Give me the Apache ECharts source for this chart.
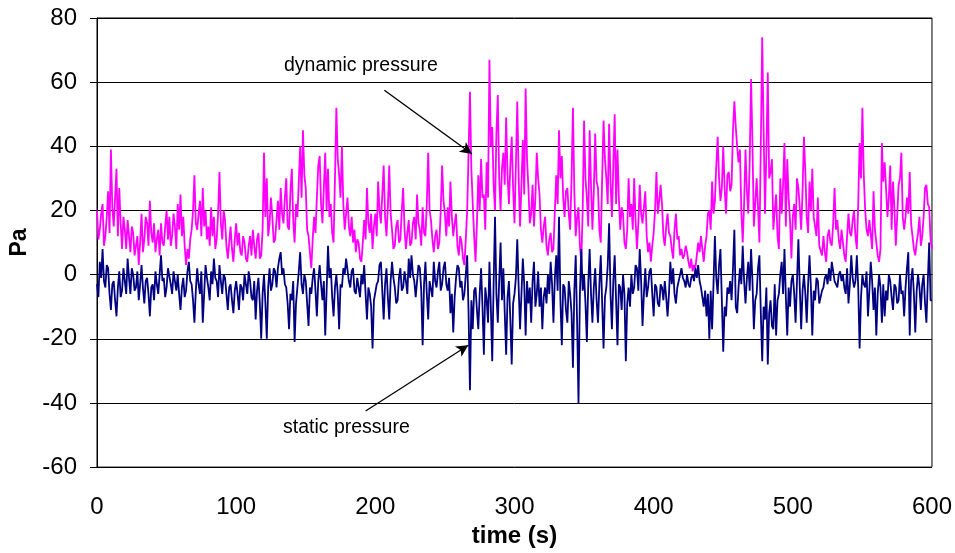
<!DOCTYPE html>
<html>
<head>
<meta charset="utf-8">
<script src="https://cdn.jsdelivr.net/npm/echarts@6/dist/echarts.min.js"></script>
<style>
html,body{margin:0;padding:0;background:#fff;}
#chart{width:955px;height:553px;}
</style>
</head>
<body>
<div id="chart"></div>
<script>
// sampling step of the hand-read series (seconds)
const sampleStep = 1;

// dynamic pressure (Pa), read every 1 s from 0 to 600 s (20 values per row)
const dynamicPressure = [
  20,11,14,19,22,9,12,18,26,13,39,21,15,24,33,12,27,16,8,18,
  14,8,17,12,7,15,13,6,9,12,3,10,19,7,11,18,16,9,23,13,
  10,16,7,11,14,6,16,10,9,15,20,11,18,9,12,19,15,8,22,14,
  25,12,18,9,3,8,5,11,14,20,31,16,14,19,23,12,27,15,20,11,
  15,9,21,12,18,8,11,19,32,16,11,20,17,9,5,10,15,8,4,11,
  16,9,13,7,6,12,10,5,4,9,12,6,14,9,5,11,13,5,6,14,
  38,18,30,12,16,24,18,10,11,17,23,14,27,19,16,24,30,15,14,26,
  33,17,10,22,18,29,40,24,45,31,27,14,12,7,2,11,18,13,24,34,
  37,22,16,27,38,20,33,18,22,13,10,30,52,36,31,24,40,22,14,19,
  24,15,12,18,10,14,7,11,10,5,4,10,17,11,27,16,13,19,8,15,
  19,12,29,20,16,25,34,18,12,21,34,19,14,8,9,15,17,10,11,20,
  27,14,8,13,17,9,10,16,18,11,25,16,14,9,21,13,12,22,38,20,
  17,11,7,12,14,8,10,20,34,23,19,12,21,15,29,18,12,16,19,9,
  6,12,10,5,3,11,20,38,57,33,22,12,4,16,31,20,36,24,25,14,
  35,24,67,40,46,28,20,44,56,30,20,33,38,28,49,31,22,34,43,27,
  16,34,54,30,15,28,42,25,58,36,27,16,19,28,15,24,38,30,25,14,
  10,15,18,9,6,11,13,7,8,20,31,22,45,30,37,24,18,26,27,19,
  14,30,52,26,12,18,21,9,4,20,48,30,24,15,45,28,14,26,44,29,
  27,14,10,30,48,36,30,22,47,29,18,34,50,22,39,24,14,21,19,10,
  8,14,30,18,22,14,30,17,8,16,28,19,16,21,26,12,7,10,4,9,
  13,20,32,19,23,28,22,12,9,15,19,13,12,8,5,14,19,11,12,6,
  8,5,6,9,7,4,2,5,1,3,2,6,10,7,12,8,4,9,12,19,
  20,14,29,19,23,34,43,30,23,27,40,27,19,31,32,26,28,45,54,46,
  40,35,39,20,10,22,39,26,19,35,61,41,15,22,30,21,10,40,74,46,
  19,38,63,30,32,36,14,20,25,12,8,30,19,28,41,15,36,24,17,5,
  18,22,14,30,27,21,14,26,43,32,18,13,29,20,33,18,18,12,24,9,
  9,6,12,7,4,12,14,10,9,16,27,14,17,11,8,14,14,6,4,12,
  19,13,12,17,20,12,8,22,41,30,52,31,20,14,12,17,17,8,26,14,
  10,6,4,8,41,29,35,27,18,24,34,14,29,21,9,18,28,30,38,18,
  14,18,24,19,32,16,12,8,6,10,13,18,9,12,18,27,28,22,21,11,
  8
];

// static pressure (Pa), read every 1 s from 0 to 600 s (20 values per row)
const staticPressure = [
  -3,-7,4,-1,8,-2,-4,3,2,-6,-11,-3,-2,-8,-13,-4,1,-7,-5,2,
  -2,-6,5,-1,-6,2,0,-5,-4,1,-8,-3,3,-4,-9,-2,-1,-6,-13,-4,
  -3,-8,1,-3,-6,0,6,-2,-1,-7,-4,2,2,-3,-6,1,-2,-5,0,-6,
  -11,-4,-1,-7,-5,1,4,-2,-3,-8,-15,-5,2,-3,-6,1,-15,-6,3,-1,
  -4,-8,1,-3,5,-1,-2,-7,3,-2,-6,0,-1,-6,-11,-4,-3,-8,-12,-5,
  -2,-6,-11,-3,-4,-8,0,-3,-6,1,-2,-7,-8,-2,-14,-5,-1,-9,-20,-6,
  0,-9,-20,-4,2,-5,-3,2,1,-4,2,5,7,0,2,-3,-4,-9,-17,-6,
  -8,-2,-21,-9,-4,1,7,-3,-6,0,-2,-9,-16,-4,-6,-1,2,-5,-13,-2,
  3,-3,-8,-2,-19,-5,9,-1,2,-7,-13,-4,0,-6,-17,-3,-4,2,0,5,
  5,-2,-4,1,2,-5,-6,-1,-4,-7,0,-3,3,-6,-14,-4,-6,-10,-23,-8,
  -8,-3,-2,3,4,-5,-14,-3,2,-7,-14,-2,4,-1,-4,-9,-8,-1,2,-5,
  -4,1,-2,-6,5,-1,6,0,-2,-7,-2,3,2,-5,-22,-3,4,-6,-14,-2,
  -2,-7,4,-2,-4,1,4,-5,-3,2,4,-3,-5,-1,-12,-6,-18,-7,-1,3,
  2,-4,-2,-8,-6,0,6,-12,-36,-8,-17,-5,-4,-11,-17,-6,2,-10,-25,-4,
  -8,-15,4,-10,-27,-3,18,-6,-15,-2,10,-8,2,-12,-25,-7,-2,-14,-28,-9,
  -6,-1,11,-4,-17,-6,5,-3,-19,-2,-9,-4,-15,-2,4,-10,-6,1,-10,-4,
  -17,-7,-4,-9,0,-6,4,-3,-15,-1,6,-5,18,-8,-22,-3,-4,-11,-15,-2,
  -6,-12,-29,-5,6,-15,-40,-6,8,-5,0,-9,-21,-3,8,-6,-15,-4,2,-8,
  -15,-3,6,-9,-23,-7,-4,3,16,-6,-17,-2,6,-8,-22,-3,-4,-11,0,-6,
  -27,-9,-4,-10,0,-6,-4,3,2,-5,8,-2,-16,-6,2,-7,-4,1,2,-6,
  -13,-3,-4,-9,-10,-3,-4,-8,-2,-7,-13,-6,4,-3,2,-6,-9,-4,-2,0,
  2,-1,-2,-4,0,-3,-4,-1,0,-2,2,-1,3,-2,-4,-7,-10,-5,-13,-6,
  -20,-5,-17,-3,12,-1,-6,3,8,-8,-24,-10,-13,-4,-6,-2,-8,2,14,-10,
  -12,-4,2,-3,9,-2,-9,-1,4,-5,8,-2,-17,-8,-6,2,6,-12,-27,-10,
  -14,-4,-28,-12,-8,-16,-17,-3,-19,-8,-6,0,4,-6,8,-7,-19,-4,-10,-2,
  0,-6,-15,-2,11,-4,-17,-5,0,-6,-15,-3,6,-4,-19,-5,-8,-1,-2,-9,
  -9,-5,-4,-1,0,-3,2,-2,4,1,-2,-3,-4,0,1,-2,0,-4,-6,2,
  -9,-3,6,-1,-4,-2,6,-4,-23,-7,0,-3,-4,1,-13,-5,4,-2,-11,-4,
  -19,-6,0,-4,-15,-3,-13,-5,-8,0,-2,-7,-11,-3,-4,-9,-8,0,-6,-5,
  -13,-4,2,7,-19,-2,2,-6,-18,-5,0,-4,-11,-3,0,-9,-15,-2,10,-8,
  -8
];

// axis ticks
const yTicks = { min: -60, max: 80, interval: 20 };
const xTicks = { min: 0, max: 600, interval: 100 };

// annotation arrows in data coordinates [time, Pa]
const dynamicArrow = [[206.5, 57.5], [269.5, 37.6]];
const staticArrow = [[193, -42.5], [266.8, -22]];

const dynData = dynamicPressure.map((v, i) => [i * sampleStep, v]);
const statData = staticPressure.map((v, i) => [i * sampleStep, v]);

const chart = echarts.init(document.getElementById('chart'), null, { renderer: 'canvas' });
const FONT = '"Liberation Sans", Arial, Helvetica, sans-serif';

chart.setOption({
  animation: false,
  backgroundColor: '#ffffff',
  grid: {
    left: 95.5, right: 22, top: 18, bottom: 84,
    show: true, borderColor: '#000', borderWidth: 1, backgroundColor: 'transparent'
  },
  xAxis: {
    type: 'value',
    min: xTicks.min, max: xTicks.max, interval: xTicks.interval,
    name: 'time (s)',
    nameLocation: 'middle',
    nameGap: 52,
    nameTextStyle: { fontFamily: FONT, fontSize: 24, fontWeight: 'bold', color: '#000' },
    axisLine: { show: true, lineStyle: { color: '#000', width: 1 } },
    axisTick: { show: false },
    axisLabel: { fontFamily: FONT, fontSize: 24, color: '#000', margin: 28 },
    splitLine: { show: false }
  },
  yAxis: {
    type: 'value',
    min: yTicks.min, max: yTicks.max, interval: yTicks.interval,
    name: 'Pa',
    nameLocation: 'middle',
    nameGap: 66,
    nameRotate: 90,
    nameTextStyle: { fontFamily: FONT, fontSize: 23, fontWeight: 'bold', color: '#000' },
    axisLine: { show: true, lineStyle: { color: '#000', width: 1 } },
    axisTick: { show: true, inside: false, length: 7, lineStyle: { color: '#000' } },
    axisLabel: { fontFamily: FONT, fontSize: 24, color: '#000', margin: 20 },
    splitLine: { show: true, lineStyle: { color: '#000', width: 1 } }
  },
  graphic: [
    { type: 'text', left: 284, top: 56, style: { text: 'dynamic pressure', font: '19.5px ' + FONT, fill: '#000' } },
    { type: 'text', left: 283, top: 418, style: { text: 'static pressure', font: '19.5px ' + FONT, fill: '#000' } }
  ],
  series: [
    {
      name: 'dynamic pressure',
      type: 'line',
      data: dynData,
      showSymbol: false,
      symbol: 'none',
      lineStyle: { color: '#FF00FF', width: 1.8 },
      z: 2,
      markLine: {
        silent: true,
        symbol: ['none', 'arrow'],
        symbolSize: [9, 12],
        label: { show: false },
        lineStyle: { color: '#000', width: 1.3, type: 'solid' },
        data: [[{ coord: dynamicArrow[0] }, { coord: dynamicArrow[1] }]]
      }
    },
    {
      name: 'static pressure',
      type: 'line',
      data: statData,
      showSymbol: false,
      symbol: 'none',
      lineStyle: { color: '#000080', width: 1.8 },
      z: 3,
      markLine: {
        silent: true,
        symbol: ['none', 'arrow'],
        symbolSize: [9, 12],
        label: { show: false },
        lineStyle: { color: '#000', width: 1.3, type: 'solid' },
        data: [[{ coord: staticArrow[0] }, { coord: staticArrow[1] }]]
      }
    }
  ]
});
</script>
</body>
</html>
